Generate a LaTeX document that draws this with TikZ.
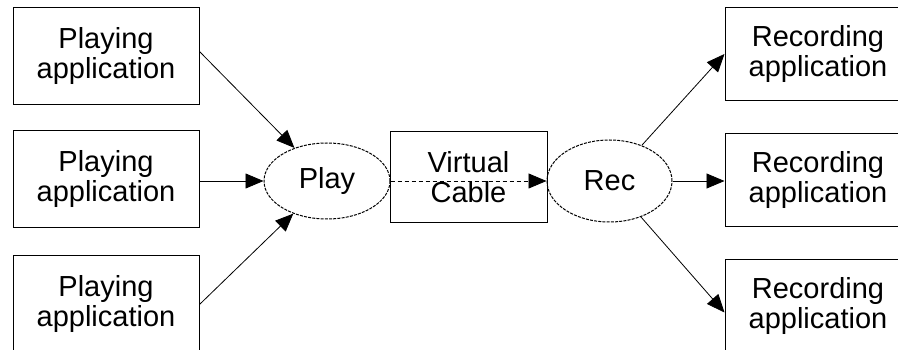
\documentclass[tikz,border=0pt]{standalone}
\usepackage{fontspec}
\setmainfont{Liberation Sans}
\usetikzlibrary{shapes.geometric,arrows.meta}
\begin{document}
\begin{tikzpicture}[x=1pt,y=-1pt,
 txt/.style={font=\fontsize{29}{30}\selectfont},
 box/.style={draw,line width=1pt,minimum width=186pt,minimum height=97pt,inner sep=0pt,align=center,txt},
 rbox/.style={box,minimum height=93pt},
 cablebox/.style={box,minimum width=157pt,minimum height=91pt},
 ell/.style={draw,ellipse,dash pattern=on 3pt off 1.2pt,line width=1pt,minimum width=126pt,inner sep=0pt,txt},
 arr/.style={-{Triangle[length=18pt,width=15pt]},line width=0.8pt}]
\clip (0,0) rectangle (898,350);
\useasboundingbox (0,0) rectangle (898,350);
\node[box] (p1) at (106,56.5) {Playing\\application};
\node[box] (p2) at (106,179.5) {Playing\\application};
\node[box] (p3) at (106,304.5) {Playing\\application};
\node[ell,minimum height=76pt] (play) at (327,181) {Play};
\node[cablebox] (cab) at (468.5,177.5) {Virtual\\Cable};
\node[ell,minimum width=125pt,minimum height=82pt] (rec) at (609.5,181) {Rec};
\node[rbox] (r1) at (818,54) {Recording\\application};
\node[rbox] (r2) at (818,180) {Recording\\application};
\node[rbox] (r3) at (818,306.5) {Recording\\application};
\draw[arr] ([yshift=5pt]p1.east) -- (play);
\draw[arr] ([yshift=-1.5pt]p2.east) -- (play.west);
\draw[arr] (p3.east) -- (play);
\draw[arr,dash pattern=on 4pt off 3pt] (play.east) -- (rec.west);
\draw[arr] (rec) -- (r1.west);
\draw[arr] (rec.east) -- ([yshift=-1pt]r2.west);
\draw[arr] (rec) -- ([yshift=-6pt]r3.west);
\end{tikzpicture}
\end{document}
